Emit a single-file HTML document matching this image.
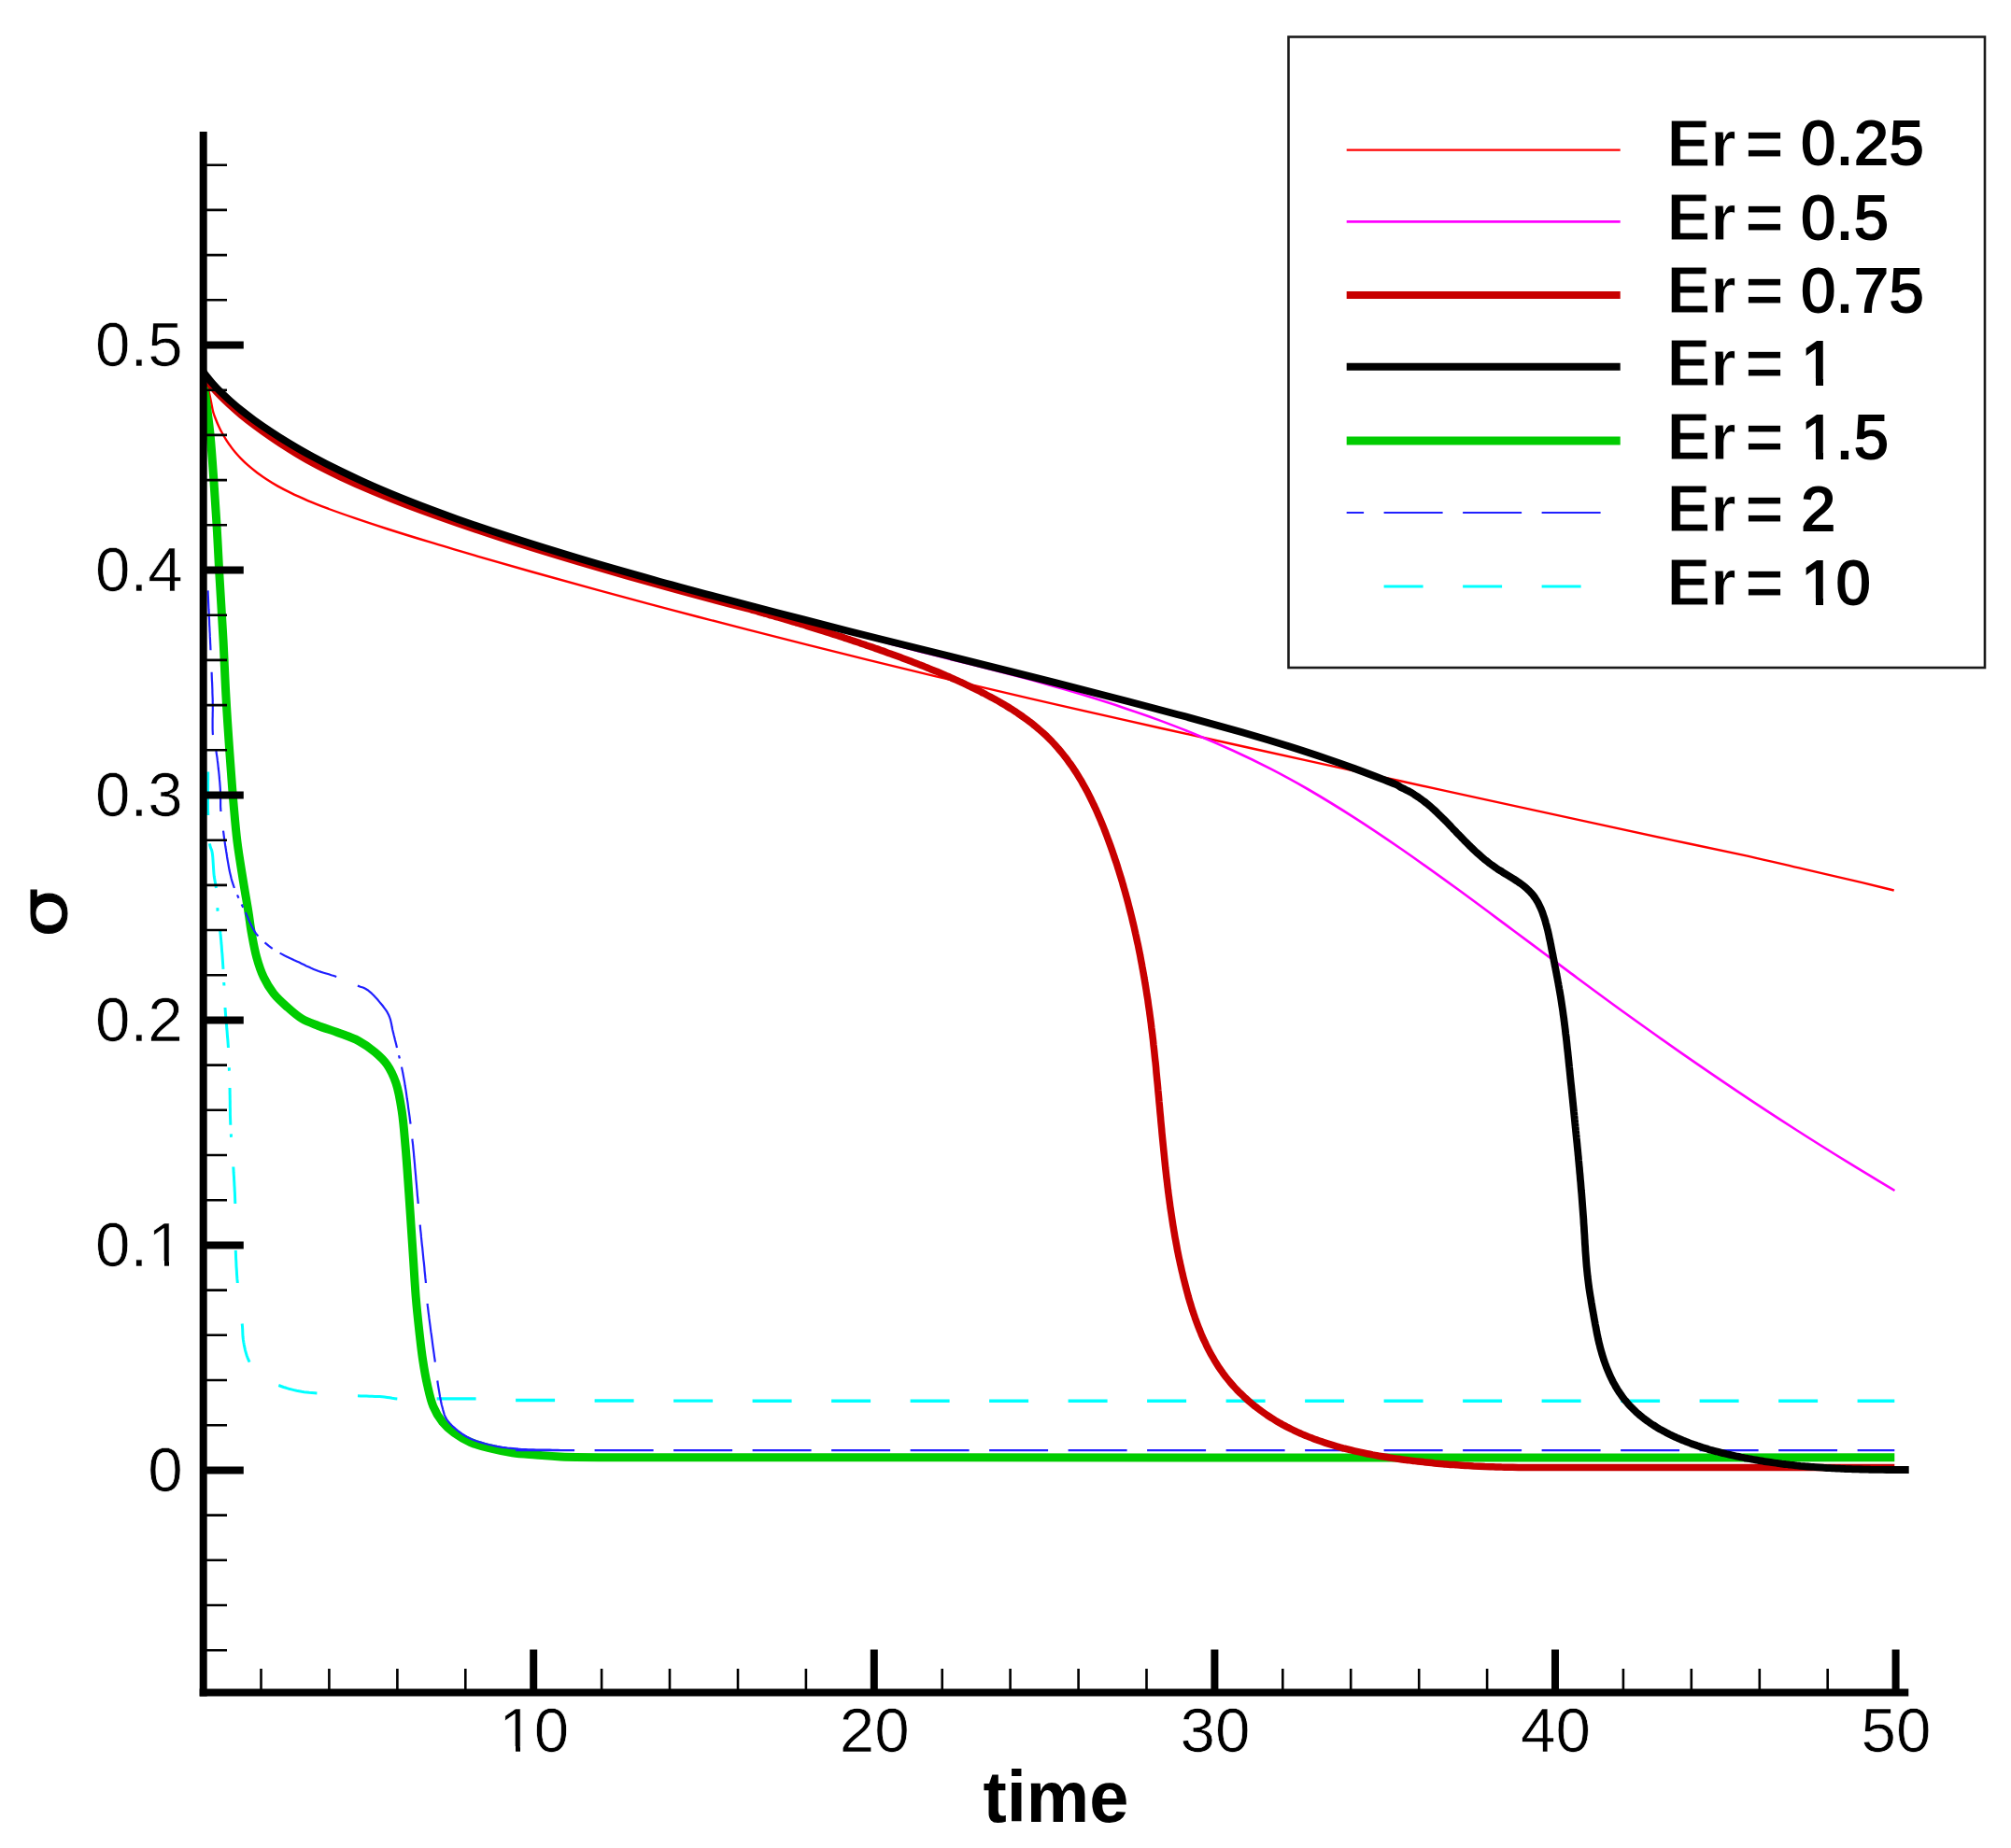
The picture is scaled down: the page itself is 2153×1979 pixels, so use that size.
<!DOCTYPE html>
<html lang="en"><head><meta charset="utf-8"><title>sigma vs time</title>
<style>html,body{margin:0;padding:0;background:#fff}body{width:2153px;height:1979px;overflow:hidden}svg{display:block}text{font-family:"Liberation Sans",Arial,Helvetica,sans-serif;fill:#000}.num{stroke:#fff;stroke-width:.7px}.num{font-size:67.4px}.leg{font-size:70px;font-weight:bold;stroke:#fff;stroke-width:.8px}.leg .d{font-weight:normal;stroke:#000;stroke-width:2px;font-size:66.3px;letter-spacing:.8px}</style></head><body>
<svg width="2153" height="1979" viewBox="0 0 2153 1979">
<rect width="2153" height="1979" fill="#fff"/>
<defs><clipPath id="plot"><rect x="217" y="100" width="1830" height="1712"/></clipPath></defs>
<g fill="none" stroke-linejoin="round" stroke-linecap="butt" clip-path="url(#plot)">
<path d="M222.7 826.4 L222.7 829.3 L222.7 832.1 L222.7 835.0 L222.6 837.9 L222.6 840.9 L222.6 843.8 L222.5 846.7 L222.5 849.6 L222.5 852.5 L222.5 855.3 L222.5 858.1 L222.5 860.9 L222.5 863.7 L222.5 866.4 L222.6 869.1 L222.7 871.7 L222.7 873.0 M224.5 903.4 L224.8 905.4 L225.6 908.1 L226.6 910.4 L227.2 913.0 L227.5 915.3 L227.8 918.0 L228.0 920.9 L228.2 924.0 L228.4 927.2 L228.6 930.4 L228.8 933.4 L229.0 936.1 L229.3 938.8 L229.8 941.8 L230.3 944.5 L230.8 947.2 L231.3 950.2 L231.4 951.0 M232.8 972.2 L233.0 975.0 L233.1 975.7 M235.7 996.8 L235.9 999.2 L236.2 1001.8 L236.4 1004.5 L236.7 1007.2 L236.9 1010.0 L237.2 1012.9 L237.4 1015.8 L237.6 1018.8 L237.9 1021.7 L238.1 1024.7 L238.3 1027.7 L238.5 1030.7 L238.7 1033.6 L238.9 1036.5 L239.0 1037.9 M239.7 1052.0 L239.9 1054.9 L239.9 1055.6 M241.0 1079.0 L241.2 1081.8 L241.4 1084.6 L241.6 1087.4 L241.8 1090.2 L242.1 1093.0 L242.3 1095.8 L242.6 1098.7 L242.8 1101.5 L243.1 1104.3 L243.3 1107.2 L243.5 1110.0 L243.8 1112.8 L244.0 1115.6 L244.2 1118.5 L244.4 1121.3 L244.4 1122.0 M245.3 1143.2 L245.4 1146.1 L245.5 1146.8 M246.0 1165.0 L246.1 1167.9 L246.1 1170.7 L246.2 1173.6 L246.2 1176.4 L246.3 1179.2 L246.3 1182.0 L246.3 1184.8 L246.4 1187.6 L246.4 1190.4 L246.4 1193.2 L246.5 1196.1 L246.6 1198.9 L246.7 1201.8 L246.8 1204.7 M247.3 1214.4 L247.5 1217.2 L247.6 1217.9 M249.8 1249.5 L250.0 1252.4 L250.1 1255.2 L250.3 1258.0 L250.5 1260.8 L250.6 1263.6 L250.8 1266.4 L250.9 1269.1 L251.1 1271.9 L251.2 1274.6 L251.4 1277.4 L251.5 1280.3 L251.6 1283.1 L251.7 1286.0 L251.8 1289.0 M252.3 1339.0 L252.4 1342.0 L252.5 1344.9 L252.6 1347.8 L252.8 1350.5 L252.9 1353.3 L253.0 1356.0 L253.2 1358.7 L253.4 1361.4 L253.5 1364.1 L253.7 1366.9 L253.9 1369.7 L254.2 1372.5 L254.3 1374.0 M259.2 1417.5 L259.5 1420.7 L259.7 1423.7 L259.8 1426.6 L259.9 1429.3 L260.1 1432.0 L260.4 1434.7 L260.8 1437.3 L261.3 1440.1 L261.9 1443.0 L262.5 1445.8 L263.3 1448.6 L264.1 1451.4 L265.1 1454.1 L266.2 1456.7 L267.2 1458.6 M298.3 1483.5 L300.9 1484.5 L303.6 1485.5 L306.4 1486.3 L309.1 1487.2 L311.9 1487.9 L314.7 1488.6 L317.5 1489.3 L320.2 1489.8 L323.0 1490.3 L325.6 1490.7 L328.3 1491.0 L331.0 1491.3 L333.9 1491.5 L336.9 1491.8 L339.4 1492.0 M383.0 1494.7 L386.1 1494.9 L389.3 1495.0 L392.4 1495.1 L395.4 1495.2 L398.3 1495.3 L401.2 1495.4 L404.0 1495.5 L406.6 1495.6 L409.2 1495.8 L411.6 1496.0 L414.7 1496.4 L417.3 1496.8 L419.9 1497.3 L422.8 1497.7 L425.3 1498.0 " stroke="#00ffff" stroke-width="3"/>
<path d="M467.6 1497.9H509.6 M552.1 1499.5H594.1 M636.6 1500.0H678.6 M721.1 1500.1H763.1 M805.6 1500.2H847.6 M890.1 1500.2H932.1 M974.6 1500.2H1016.6 M1059.1 1500.2H1101.1 M1143.6 1500.2H1185.6 M1228.1 1500.2H1270.1 M1312.6 1500.2H1354.6 M1397.1 1500.2H1439.1 M1481.6 1500.2H1523.6 M1566.1 1500.2H1608.1 M1650.6 1500.2H1692.6 M1735.1 1500.2H1777.1 M1819.6 1500.2H1861.6 M1904.1 1500.2H1946.1 M1988.6 1500.2H2028.3 " stroke="#00ffff" stroke-width="3.4"/>
<path d="M214.0 397.0 C215.7 399.7 217.6 402.1 219.0 405.0 C220.5 408.1 221.5 411.4 222.5 415.0 C223.7 419.0 224.5 423.6 225.5 428.0 C226.5 432.4 227.2 437.7 228.3 441.5 C229.1 444.4 230.0 446.4 231.0 449.0 C232.0 451.6 233.2 454.4 234.4 456.9 C235.5 459.4 236.7 461.7 238.0 464.0 C239.4 466.6 241.0 469.2 242.5 471.6 C244.0 473.9 245.4 476.0 247.0 478.1 C248.6 480.3 250.2 482.4 252.0 484.5 C253.9 486.7 255.8 488.8 258.0 491.1 C260.4 493.6 263.2 496.2 266.0 498.7 C268.9 501.2 271.9 503.6 275.0 506.0 C278.2 508.4 281.5 510.7 285.0 513.0 C288.8 515.5 292.7 517.9 297.0 520.4 C301.7 523.0 306.7 525.6 312.0 528.2 C317.7 531.0 323.7 533.6 330.0 536.3 C336.9 539.2 344.2 542.0 352.0 545.0 C360.7 548.2 370.1 551.5 380.0 554.9 C391.0 558.7 402.6 562.5 415.0 566.5 C429.0 571.0 444.6 575.8 460.0 580.4 C476.2 585.4 492.6 590.2 510.0 595.3 C529.1 600.9 549.2 606.6 570.0 612.5 C592.4 618.8 615.9 625.3 640.0 631.9 C665.8 638.9 693.3 646.3 720.0 653.4 C746.7 660.4 771.8 667.0 800.0 674.2 C831.5 682.3 866.7 691.2 900.0 699.4 C933.3 707.7 966.7 715.8 1000.0 723.8 C1033.3 731.8 1066.7 739.6 1100.0 747.3 C1133.3 755.1 1166.7 762.7 1200.0 770.2 C1233.3 777.7 1266.7 785.1 1300.0 792.5 C1333.3 799.9 1366.7 807.3 1400.0 814.6 C1433.3 821.9 1466.7 829.2 1500.0 836.5 C1533.3 843.8 1566.7 851.1 1600.0 858.3 C1633.3 865.6 1667.5 873.0 1700.0 880.1 C1730.8 886.7 1760.7 893.3 1790.0 899.6 C1817.9 905.5 1846.9 911.3 1871.8 916.8 C1892.9 921.5 1910.2 925.8 1930.0 930.4 C1950.7 935.2 1975.7 940.9 1993.6 945.2 C2006.7 948.3 2016.3 950.7 2027.7 953.5" stroke="#ff0000" stroke-width="2.4"/>
<path d="M214.0 396.0 C215.2 400.7 216.5 405.2 217.5 410.0 C218.5 414.9 219.2 419.7 220.0 425.0 C220.9 430.9 221.7 437.2 222.5 443.6 C223.4 450.4 224.2 456.2 225.0 464.7 C226.3 477.6 227.6 497.2 228.8 513.4 C230.0 529.6 231.0 545.8 232.0 562.0 C233.0 578.2 233.6 592.9 234.6 610.8 C235.8 632.9 237.7 660.8 239.0 684.7 C240.2 707.1 240.9 728.3 242.2 750.0 C243.4 771.7 245.1 795.6 246.5 815.0 C247.6 830.8 248.6 843.6 249.8 858.0 C251.1 872.5 252.2 887.0 254.0 901.5 C255.8 916.0 258.5 931.4 260.6 944.8 C262.4 956.3 264.5 967.3 266.0 977.0 C267.3 985.0 267.9 991.4 269.3 999.0 C270.8 1007.3 272.4 1016.8 274.7 1025.0 C276.8 1032.6 279.1 1039.9 282.3 1046.5 C285.3 1052.8 288.7 1058.6 293.0 1064.0 C297.3 1069.5 303.0 1074.4 308.2 1079.0 C313.1 1083.4 317.9 1087.7 323.4 1091.0 C328.8 1094.2 334.6 1096.1 340.7 1098.5 C347.5 1101.1 355.1 1103.3 362.3 1106.0 C369.6 1108.7 377.4 1111.1 384.0 1114.7 C390.3 1118.1 396.1 1122.2 401.3 1126.6 C406.2 1130.7 410.6 1134.7 414.3 1140.0 C418.3 1145.7 421.4 1152.5 424.0 1160.0 C427.0 1168.8 428.6 1179.3 430.2 1189.8 C432.0 1201.5 432.8 1213.7 434.0 1227.0 C435.4 1242.4 436.6 1261.6 437.7 1277.0 C438.6 1290.3 439.4 1301.6 440.2 1314.0 C441.0 1326.5 441.9 1339.1 442.7 1351.6 C443.5 1364.1 444.2 1376.6 445.2 1389.0 C446.2 1401.4 447.6 1414.3 448.9 1426.0 C450.1 1436.5 451.1 1446.2 452.6 1456.0 C454.0 1465.4 455.6 1474.8 457.6 1483.5 C459.4 1491.4 460.9 1499.1 463.8 1505.9 C466.4 1512.2 469.9 1518.1 473.8 1523.0 C477.4 1527.5 481.5 1531.0 486.2 1534.5 C491.3 1538.3 497.5 1541.8 503.7 1544.5 C510.0 1547.2 516.5 1548.9 523.6 1550.7 C531.4 1552.7 540.2 1554.5 548.5 1555.7 C556.8 1556.9 565.0 1557.3 573.4 1558.0 C582.1 1558.7 588.3 1559.5 600.0 1560.0 C622.7 1560.9 647.7 1560.6 700.0 1560.8 C890.7 1561.6 1585.5 1560.8 2028.3 1560.8" stroke="#00cc00" stroke-width="9"/>
<path d="M222.6 632.4 L222.7 635.5 L222.8 637.6 L222.9 639.8 L223.0 642.1 L223.1 644.5 L223.2 646.9 L223.3 649.5 L223.4 652.2 L223.6 654.9 L223.7 657.7 L223.8 660.6 L224.0 663.5 L224.1 666.5 L224.2 669.5 L224.4 672.6 L224.5 675.7 L224.7 678.8 L224.8 681.9 L225.0 685.1 L225.1 688.3 L225.3 691.5 L225.4 694.7 L225.5 696.3 M226.6 719.7 L226.7 722.7 L226.8 725.6 L226.9 728.5 L227.1 731.2 L227.2 734.0 L227.3 736.6 L227.4 739.2 L227.4 741.6 L227.5 744.0 L227.6 746.3 L227.7 748.4 L227.7 750.9 L227.8 754.4 L227.8 757.8 L227.8 761.0 L227.7 764.1 L227.7 767.1 L227.6 770.0 L227.6 772.7 L227.6 775.4 L227.6 778.0 L227.6 780.5 L227.7 782.9 L227.8 785.3 L228.0 787.0 M231.4 804.0 L231.7 806.3 L232.1 808.8 L232.5 811.4 L232.8 814.2 L233.2 817.1 L233.5 820.0 L233.8 823.0 L234.2 826.0 L234.5 829.0 L234.8 832.0 L235.0 834.9 L235.3 837.7 L235.5 840.4 L235.7 843.0 L235.9 846.0 L236.0 849.0 L236.0 851.9 L236.1 854.8 L236.1 857.6 L236.1 860.3 L236.1 863.0 L236.2 865.7 L236.4 868.3 L236.4 869.0 M239.0 889.6 L239.4 892.4 L239.7 895.1 L240.1 897.9 L240.5 900.7 L240.9 903.5 L241.3 906.3 L241.8 909.2 L242.2 912.0 L242.7 914.8 L243.1 917.7 L243.6 920.7 L244.1 923.6 L244.6 926.5 L245.1 929.3 L245.6 932.1 L246.2 934.7 L246.9 937.5 L247.5 940.3 L248.2 942.9 L249.0 945.4 L249.9 948.1 L250.9 951.0 M254.0 958.4 L255.2 961.0 L255.5 961.7 M258.7 968.5 L260.0 971.2 L260.3 971.8 M262.8 977.0 L264.0 979.6 L265.2 982.3 L266.3 985.0 L267.5 987.6 L268.7 990.2 L269.9 992.7 L271.2 995.1 L272.5 997.4 L274.0 999.6 L275.9 1001.9 L276.3 1002.5 M283.5 1009.4 L285.6 1011.1 L287.7 1012.9 L290.0 1014.6 L291.7 1015.8 M299.6 1020.6 L302.0 1021.9 L304.5 1023.2 L307.0 1024.4 L309.7 1025.7 L312.4 1026.9 L315.0 1028.2 L317.7 1029.4 L320.3 1030.6 L322.9 1031.9 L325.4 1033.1 L328.0 1034.4 L330.6 1035.6 L333.2 1036.8 L335.8 1037.9 L338.5 1039.0 L341.1 1040.0 L343.8 1040.9 L346.5 1041.7 L349.2 1042.5 L352.0 1043.3 L354.7 1044.2 L357.5 1045.0 L360.2 1046.0 M382.9 1055.6 L385.9 1056.7 L388.6 1057.5 L391.2 1058.7 L393.6 1060.2 L395.6 1061.8 L397.8 1063.7 L399.9 1065.8 L402.0 1068.1 L404.1 1070.3 L406.0 1072.6 L407.8 1074.7 L409.7 1077.0 L411.4 1079.3 L413.1 1081.6 L414.6 1083.9 L415.9 1086.4 L417.0 1089.0 L417.9 1091.6 L418.6 1094.4 L419.2 1097.2 L419.7 1100.1 L420.3 1102.9 L421.0 1105.7 L421.6 1108.3 L422.3 1111.0 L422.9 1113.6 L423.6 1116.3 L424.3 1119.0 L425.0 1122.0 M427.0 1130.2 L427.7 1132.9 L427.8 1133.5 M430.0 1142.6 L430.6 1145.6 L431.2 1148.5 L431.7 1151.3 L432.2 1153.9 L432.7 1156.7 L433.2 1159.4 L433.6 1162.3 L434.1 1165.2 L434.6 1168.1 L435.0 1171.0 L435.4 1173.9 L435.8 1176.8 L436.3 1179.7 L436.7 1182.5 L437.0 1185.3 L437.4 1188.0 L437.8 1190.8 L438.2 1193.6 L438.6 1196.4 L438.9 1199.1 L439.3 1201.7 L439.5 1203.6 M441.4 1219.6 L441.6 1221.9 L441.9 1224.3 L442.2 1226.9 L442.4 1229.6 L442.7 1232.4 L443.0 1235.2 L443.2 1238.2 L443.5 1241.2 L443.8 1244.3 L444.1 1247.4 L444.3 1250.5 L444.6 1253.7 L444.9 1256.8 L445.2 1259.9 L445.4 1263.0 L445.7 1266.1 L446.0 1269.1 L446.2 1272.0 L446.5 1274.9 L446.7 1277.6 L446.9 1280.3 L447.2 1282.8 L447.4 1285.2 L447.6 1287.4 L447.7 1289.0 M449.7 1311.7 L449.9 1313.9 L450.1 1316.3 L450.4 1318.8 L450.7 1321.5 L450.9 1324.2 L451.2 1327.1 L451.5 1330.1 L451.8 1333.1 L452.2 1336.2 L452.5 1339.4 L452.8 1342.5 L453.1 1345.7 L453.4 1348.8 L453.8 1351.9 L454.1 1354.9 L454.4 1357.9 L454.6 1360.8 L454.9 1363.6 L455.2 1366.3 L455.4 1368.9 L455.7 1371.2 L455.9 1373.5 L455.9 1374.0 M457.6 1396.0 L457.8 1398.2 L458.1 1400.5 L458.4 1403.0 L458.7 1405.6 L459.1 1408.3 L459.4 1411.2 L459.8 1414.1 L460.2 1417.1 L460.6 1420.2 L461.0 1423.3 L461.4 1426.4 L461.9 1429.5 L462.3 1432.7 L462.7 1435.7 L463.1 1438.8 L463.5 1441.8 L463.9 1444.7 L464.3 1447.5 L464.7 1450.2 L465.0 1452.8 L465.4 1455.2 L465.7 1457.5 L465.8 1458.6 M468.3 1478.5 L468.7 1481.3 L469.1 1484.1 L469.6 1487.0 L470.1 1489.9 L470.6 1492.9 L471.1 1495.9 L471.7 1498.8 L472.2 1501.6 L472.8 1504.3 L473.5 1506.8 L474.2 1509.6 L475.0 1512.4 L475.8 1515.1 L476.9 1517.6 L478.3 1520.1 L479.9 1522.2 L481.6 1524.2 L483.5 1526.2 L485.5 1528.2 L487.8 1530.2 L490.1 1532.1 L492.6 1534.0 L495.0 1535.7 L497.5 1537.3 L499.9 1538.7 L502.4 1540.0 L505.0 1541.2 L507.6 1542.2 L510.3 1543.2 L513.1 1544.1 L515.8 1544.9 L518.6 1545.7 L521.5 1546.5 L524.3 1547.2 L526.9 1547.8 L529.6 1548.4 L532.2 1548.9 L534.9 1549.3 L537.7 1549.8 L540.4 1550.1 L543.3 1550.5 L546.2 1550.8 L549.2 1551.1 L552.2 1551.4 L554.9 1551.7 L557.4 1551.9 L560.1 1552.0 L562.8 1552.1 L565.5 1552.3 L568.3 1552.4 L571.1 1552.4 L574.0 1552.5 L576.9 1552.6 L579.8 1552.6 L582.7 1552.7 L585.6 1552.7 L588.5 1552.7 L591.4 1552.8 L594.3 1552.8 L597.2 1552.9 L600.0 1553.0 " stroke="#2020ff" stroke-width="2.2"/>
<path d="M552.1 1553.2H615.1 M636.6 1553.2H699.6 M721.1 1553.2H784.1 M805.6 1553.2H868.6 M890.1 1553.2H953.1 M974.6 1553.2H1037.6 M1059.1 1553.2H1122.1 M1143.6 1553.2H1206.6 M1228.1 1553.2H1291.1 M1312.6 1553.2H1375.6 M1397.1 1553.2H1460.1 M1481.6 1553.2H1544.6 M1566.1 1553.2H1629.1 M1650.6 1553.2H1713.6 M1735.1 1553.2H1798.1 M1819.6 1553.2H1882.6 M1904.1 1553.2H1967.1 M1988.6 1553.2H2028.3 " stroke="#2020ff" stroke-width="2.2"/>
<path d="M214.0 394.4 C215.0 396.0 215.9 397.5 217.0 399.2 C218.3 401.1 219.7 403.1 221.4 405.2 C223.3 407.7 225.6 410.5 228.0 413.1 C230.5 415.9 233.1 418.7 236.0 421.6 C239.1 424.6 242.5 427.8 246.0 430.9 C249.8 434.3 253.8 437.7 258.0 441.1 C262.4 444.6 267.0 448.1 272.0 451.8 C277.6 455.8 283.8 460.1 290.0 464.2 C296.4 468.5 302.9 472.6 310.0 476.8 C317.8 481.5 326.2 486.4 335.0 491.1 C344.5 496.3 354.6 501.5 365.0 506.6 C376.2 512.0 387.9 517.5 400.0 522.8 C412.8 528.4 425.9 533.8 440.0 539.4 C455.7 545.6 472.5 551.8 490.0 558.1 C509.0 564.8 529.2 571.6 550.0 578.3 C572.4 585.6 595.8 592.8 620.0 600.0 C645.7 607.7 673.3 615.5 700.0 622.9 C726.6 630.4 753.3 637.5 780.0 644.6 C806.6 651.7 833.3 658.6 860.0 665.4 C886.7 672.3 922.2 681.0 940.0 685.7 C948.9 688.1 952.2 689.2 960.0 691.3 C971.0 694.3 986.7 698.2 1000.0 701.5 C1013.3 704.9 1026.8 708.2 1040.0 711.6 C1053.1 714.9 1066.8 718.4 1079.0 721.6 C1089.9 724.4 1099.8 727.0 1110.0 729.8 C1120.1 732.6 1130.0 735.4 1140.0 738.3 C1150.0 741.2 1160.0 744.2 1170.0 747.3 C1180.0 750.4 1189.3 753.3 1200.0 756.9 C1212.4 761.1 1226.7 766.0 1240.0 770.9 C1253.4 775.9 1266.7 781.0 1280.0 786.5 C1293.4 792.0 1306.7 797.7 1320.0 803.8 C1333.4 809.9 1346.7 816.4 1360.0 823.2 C1373.4 830.1 1386.0 837.0 1400.0 845.0 C1415.8 854.2 1433.4 865.0 1450.0 875.6 C1466.8 886.3 1482.7 897.1 1500.0 909.0 C1519.2 922.3 1540.1 937.3 1560.0 951.8 C1580.1 966.4 1600.0 981.4 1620.0 996.2 C1640.0 1011.1 1660.0 1026.1 1680.0 1040.9 C1700.0 1055.7 1719.9 1070.5 1740.0 1085.0 C1759.9 1099.3 1779.9 1113.6 1800.0 1127.6 C1819.9 1141.4 1839.9 1155.1 1860.0 1168.6 C1879.9 1182.0 1899.9 1195.1 1920.0 1208.0 C1939.9 1220.8 1961.0 1234.0 1980.0 1245.7 C1997.0 1256.2 2012.3 1265.2 2028.5 1275.0" stroke="#ff00ff" stroke-width="2.6"/>
<path d="M214.0 396.9 C215.0 398.5 215.9 400.0 217.0 401.7 C218.3 403.6 219.7 405.6 221.4 407.7 C223.3 410.2 225.7 413.0 228.0 415.6 C230.5 418.5 233.1 421.3 236.0 424.2 C239.1 427.4 242.5 430.6 246.0 433.8 C249.8 437.3 253.8 440.8 258.0 444.3 C262.4 447.9 267.0 451.5 272.0 455.3 C277.6 459.5 283.8 464.0 290.0 468.2 C296.4 472.7 302.9 476.9 310.0 481.3 C317.8 486.2 326.2 491.3 335.0 496.0 C344.5 501.2 354.6 506.1 365.0 511.0 C376.2 516.3 387.9 521.5 400.0 526.6 C412.8 532.0 425.9 537.2 440.0 542.6 C455.7 548.5 472.5 554.5 490.0 560.5 C509.1 567.1 529.2 573.9 550.0 580.5 C572.4 587.7 595.9 594.8 620.0 602.0 C645.7 609.6 673.3 617.5 700.0 624.9 C726.6 632.4 762.2 641.9 780.0 646.6 C788.9 648.9 795.3 650.5 799.9 651.7 C802.5 652.4 803.9 652.8 805.8 653.4 C807.8 653.9 809.8 654.4 811.7 655.0 C813.7 655.5 815.6 656.1 817.6 656.6 C819.5 657.2 821.5 657.7 823.4 658.3 C825.4 658.9 827.3 659.4 829.3 660.0 C831.2 660.5 833.1 661.1 835.1 661.7 C837.0 662.2 838.9 662.8 840.9 663.4 C842.8 663.9 844.7 664.5 846.7 665.1 C848.6 665.6 850.5 666.2 852.4 666.8 C854.4 667.4 856.3 668.0 858.2 668.5 C860.1 669.1 862.0 669.7 864.0 670.3 C865.9 670.9 867.8 671.5 869.7 672.1 C871.6 672.7 873.5 673.3 875.4 673.9 C877.4 674.5 879.3 675.1 881.2 675.7 C883.1 676.3 885.0 676.9 886.9 677.5 C888.8 678.1 890.7 678.7 892.6 679.3 C894.5 679.9 896.4 680.6 898.3 681.2 C900.2 681.8 902.1 682.4 904.0 683.1 C905.9 683.7 907.8 684.3 909.7 684.9 C911.6 685.6 913.5 686.2 915.4 686.8 C917.3 687.5 919.2 688.1 921.1 688.8 C923.0 689.4 924.9 690.1 926.8 690.7 C928.7 691.4 930.6 692.0 932.5 692.7 C934.4 693.3 936.3 694.0 938.1 694.7 C940.0 695.3 941.9 696.0 943.8 696.7 C945.7 697.3 947.6 698.0 949.5 698.7 C951.4 699.4 953.3 700.0 955.2 700.7 C957.1 701.4 959.0 702.1 960.9 702.8 C962.8 703.5 964.7 704.2 966.6 704.9 C968.5 705.6 970.3 706.3 972.2 707.0 C974.1 707.7 976.0 708.5 977.9 709.2 C979.8 709.9 981.7 710.6 983.6 711.4 C985.4 712.1 987.3 712.9 989.2 713.6 C991.1 714.4 993.0 715.1 994.9 715.9 C996.7 716.6 998.6 717.4 1000.5 718.2 C1002.4 719.0 1004.2 719.7 1006.1 720.5 C1008.0 721.3 1009.9 722.1 1011.7 722.9 C1013.6 723.7 1015.5 724.6 1017.3 725.4 C1019.2 726.2 1021.0 727.0 1022.9 727.9 C1024.8 728.7 1026.6 729.6 1028.5 730.4 C1030.3 731.3 1032.2 732.1 1034.0 733.0 C1035.9 733.9 1037.7 734.8 1039.6 735.7 C1041.4 736.5 1043.2 737.5 1045.1 738.4 C1046.9 739.3 1048.7 740.2 1050.6 741.1 C1052.4 742.1 1054.2 743.0 1056.0 744.0 C1057.8 744.9 1059.7 745.9 1061.5 746.9 C1063.3 747.8 1065.1 748.8 1066.8 749.8 C1068.6 750.8 1070.4 751.9 1072.2 752.9 C1073.9 753.9 1075.7 755.0 1077.5 756.0 C1079.2 757.1 1080.9 758.2 1082.7 759.2 C1084.4 760.3 1086.1 761.4 1087.8 762.5 C1089.5 763.7 1091.2 764.8 1092.8 766.0 C1094.5 767.1 1096.1 768.3 1097.8 769.5 C1099.4 770.6 1101.0 771.8 1102.6 773.1 C1104.2 774.3 1105.8 775.5 1107.3 776.8 C1108.9 778.0 1110.4 779.3 1111.9 780.6 C1113.5 781.9 1114.9 783.2 1116.4 784.5 C1117.9 785.9 1119.3 787.2 1120.8 788.6 C1122.2 790.0 1123.6 791.4 1125.0 792.8 C1126.3 794.2 1127.7 795.6 1129.0 797.1 C1130.3 798.5 1131.7 800.0 1132.9 801.5 C1134.2 803.0 1135.5 804.5 1136.7 806.0 C1138.0 807.6 1139.2 809.1 1140.4 810.7 C1141.6 812.2 1142.8 813.8 1143.9 815.4 C1145.1 817.0 1146.2 818.6 1147.4 820.2 C1148.5 821.8 1149.6 823.5 1150.7 825.1 C1151.8 826.8 1152.8 828.5 1153.9 830.1 C1154.9 831.8 1155.9 833.5 1157.0 835.2 C1158.0 836.9 1159.0 838.7 1159.9 840.4 C1160.9 842.1 1161.9 843.9 1162.8 845.6 C1163.8 847.4 1164.7 849.1 1165.6 850.9 C1166.5 852.7 1167.4 854.5 1168.3 856.3 C1169.2 858.1 1170.1 859.9 1170.9 861.7 C1171.8 863.5 1172.6 865.3 1173.5 867.2 C1174.3 869.0 1175.1 870.8 1175.9 872.7 C1176.7 874.5 1177.5 876.4 1178.3 878.2 C1179.1 880.1 1179.8 882.0 1180.6 883.9 C1181.4 885.7 1182.1 887.6 1182.8 889.5 C1183.6 891.4 1184.3 893.3 1185.0 895.2 C1185.7 897.1 1186.4 899.0 1187.1 900.9 C1187.8 902.8 1188.5 904.7 1189.2 906.6 C1189.9 908.5 1190.5 910.4 1191.2 912.3 C1191.8 914.2 1192.5 916.1 1193.1 918.1 C1193.8 920.0 1194.4 921.9 1195.1 923.8 C1195.7 925.7 1196.3 927.7 1196.9 929.6 C1197.5 931.5 1198.1 933.5 1198.7 935.4 C1199.3 937.3 1199.9 939.2 1200.5 941.2 C1201.1 943.1 1201.6 945.1 1202.2 947.0 C1202.8 948.9 1203.3 950.9 1203.9 952.8 C1204.4 954.8 1205.0 956.7 1205.5 958.7 C1206.0 960.6 1206.6 962.6 1207.1 964.5 C1207.6 966.5 1208.1 968.4 1208.6 970.4 C1209.1 972.3 1209.6 974.3 1210.1 976.2 C1210.6 978.2 1211.1 980.1 1211.6 982.1 C1212.1 984.1 1212.5 986.0 1213.0 988.0 C1213.5 990.0 1213.9 991.9 1214.4 993.9 C1214.8 995.9 1215.3 997.8 1215.7 999.8 C1216.2 1001.8 1216.6 1003.7 1217.0 1005.7 C1217.4 1007.7 1217.9 1009.7 1218.3 1011.6 C1218.7 1013.6 1219.1 1015.6 1219.5 1017.6 C1219.9 1019.5 1220.3 1021.5 1220.7 1023.5 C1221.1 1025.5 1221.4 1027.5 1221.8 1029.4 C1222.2 1031.4 1222.6 1033.4 1222.9 1035.4 C1223.3 1037.4 1223.6 1039.4 1224.0 1041.4 C1224.3 1043.3 1224.7 1045.3 1225.0 1047.3 C1225.4 1049.3 1225.7 1051.3 1226.0 1053.3 C1226.4 1055.3 1226.7 1057.3 1227.0 1059.3 C1227.3 1061.3 1227.6 1063.2 1227.9 1065.2 C1228.3 1067.2 1228.6 1069.2 1228.9 1071.2 C1229.1 1073.2 1229.4 1075.2 1229.7 1077.2 C1230.0 1079.2 1230.3 1081.2 1230.6 1083.2 C1230.8 1085.2 1231.1 1087.2 1231.4 1089.2 C1231.7 1091.2 1231.9 1093.2 1232.2 1095.2 C1232.4 1097.2 1232.7 1099.2 1232.9 1101.2 C1233.2 1103.2 1233.4 1105.2 1233.7 1107.2 C1233.9 1109.2 1234.1 1111.2 1234.4 1113.2 C1234.6 1115.2 1234.8 1117.2 1235.0 1119.2 C1235.3 1121.2 1235.5 1123.2 1235.7 1125.2 C1235.9 1127.2 1236.1 1129.2 1236.3 1131.2 C1236.5 1133.2 1236.7 1135.2 1237.0 1137.2 C1237.2 1139.2 1237.4 1141.2 1237.6 1143.2 C1237.8 1145.3 1237.9 1147.3 1238.1 1149.3 C1238.3 1151.3 1238.5 1153.3 1238.7 1155.3 C1238.9 1157.3 1239.1 1159.3 1239.3 1161.3 C1239.5 1163.3 1239.7 1165.3 1239.8 1167.3 C1240.0 1169.3 1240.2 1171.3 1240.4 1173.3 C1240.6 1175.3 1240.8 1177.3 1240.9 1179.3 C1241.1 1181.3 1241.3 1183.3 1241.5 1185.3 C1241.7 1187.4 1241.8 1189.4 1242.0 1191.4 C1242.2 1193.4 1242.4 1195.4 1242.6 1197.4 C1242.7 1199.4 1242.9 1201.4 1243.1 1203.4 C1243.3 1205.4 1243.5 1207.4 1243.7 1209.4 C1243.8 1211.4 1244.0 1213.4 1244.2 1215.4 C1244.4 1217.4 1244.6 1219.4 1244.8 1221.4 C1245.0 1223.4 1245.2 1225.4 1245.4 1227.4 C1245.6 1229.4 1245.8 1231.4 1246.0 1233.4 C1246.2 1235.4 1246.4 1237.4 1246.6 1239.4 C1246.8 1241.4 1247.0 1243.4 1247.2 1245.4 C1247.4 1247.4 1247.6 1249.4 1247.8 1251.4 C1248.1 1253.4 1248.3 1255.4 1248.5 1257.4 C1248.7 1259.4 1248.9 1261.4 1249.2 1263.4 C1249.4 1265.4 1249.7 1267.4 1249.9 1269.4 C1250.1 1271.4 1250.4 1273.4 1250.6 1275.4 C1250.9 1277.4 1251.1 1279.4 1251.4 1281.4 C1251.7 1283.4 1251.9 1285.4 1252.2 1287.4 C1252.5 1289.4 1252.7 1291.4 1253.0 1293.4 C1253.3 1295.3 1253.6 1297.3 1253.9 1299.3 C1254.2 1301.3 1254.5 1303.3 1254.8 1305.3 C1255.1 1307.3 1255.4 1309.3 1255.7 1311.3 C1256.0 1313.2 1256.4 1315.2 1256.7 1317.2 C1257.0 1319.2 1257.4 1321.2 1257.7 1323.2 C1258.0 1325.2 1258.4 1327.1 1258.8 1329.1 C1259.1 1331.1 1259.5 1333.1 1259.9 1335.1 C1260.2 1337.1 1260.6 1339.0 1261.0 1341.0 C1261.4 1343.0 1261.8 1345.0 1262.2 1346.9 C1262.6 1348.9 1263.1 1350.9 1263.5 1352.9 C1263.9 1354.8 1264.4 1356.8 1264.8 1358.8 C1265.2 1360.8 1265.7 1362.7 1266.2 1364.7 C1266.6 1366.7 1267.1 1368.7 1267.6 1370.6 C1268.1 1372.6 1268.6 1374.6 1269.1 1376.5 C1269.6 1378.5 1270.1 1380.5 1270.6 1382.4 C1271.1 1384.4 1271.7 1386.3 1272.2 1388.3 C1272.8 1390.3 1273.3 1392.2 1273.9 1394.2 C1274.5 1396.1 1275.1 1398.0 1275.7 1400.0 C1276.3 1401.9 1276.9 1403.8 1277.6 1405.8 C1278.2 1407.7 1278.9 1409.6 1279.5 1411.5 C1280.2 1413.4 1280.9 1415.3 1281.6 1417.2 C1282.3 1419.1 1283.0 1421.0 1283.8 1422.9 C1284.5 1424.7 1285.3 1426.6 1286.0 1428.4 C1286.8 1430.3 1287.6 1432.1 1288.4 1434.0 C1289.3 1435.8 1290.1 1437.6 1291.0 1439.4 C1291.8 1441.2 1292.7 1443.0 1293.6 1444.8 C1294.5 1446.5 1295.5 1448.3 1296.4 1450.1 C1297.4 1451.8 1298.4 1453.5 1299.4 1455.2 C1300.4 1457.0 1301.4 1458.7 1302.5 1460.3 C1303.5 1462.0 1304.6 1463.7 1305.7 1465.3 C1306.8 1467.0 1308.0 1468.6 1309.1 1470.2 C1310.3 1471.8 1311.5 1473.4 1312.7 1475.0 C1313.9 1476.5 1315.2 1478.1 1316.5 1479.6 C1317.7 1481.1 1319.0 1482.6 1320.4 1484.1 C1321.7 1485.6 1323.1 1487.1 1324.4 1488.5 C1325.8 1489.9 1327.2 1491.4 1328.7 1492.7 C1330.1 1494.1 1331.5 1495.5 1333.0 1496.9 C1334.5 1498.2 1336.0 1499.6 1337.5 1500.9 C1339.0 1502.2 1340.6 1503.5 1342.1 1504.7 C1343.7 1506.0 1345.3 1507.2 1346.8 1508.4 C1348.4 1509.7 1350.1 1510.9 1351.7 1512.0 C1353.3 1513.2 1355.0 1514.3 1356.6 1515.5 C1358.3 1516.6 1360.0 1517.7 1361.7 1518.8 C1363.4 1519.8 1365.1 1520.9 1366.8 1521.9 C1368.5 1522.9 1370.2 1523.9 1372.0 1524.9 C1373.7 1525.9 1375.5 1526.8 1377.3 1527.8 C1379.1 1528.7 1380.8 1529.6 1382.6 1530.5 C1384.4 1531.4 1386.3 1532.2 1388.1 1533.1 C1389.9 1533.9 1391.7 1534.8 1393.6 1535.6 C1395.4 1536.4 1397.3 1537.1 1399.1 1537.9 C1401.0 1538.7 1402.9 1539.4 1404.8 1540.1 C1406.6 1540.9 1408.5 1541.6 1410.4 1542.2 C1412.3 1542.9 1414.3 1543.6 1416.2 1544.2 C1418.1 1544.9 1420.0 1545.5 1422.0 1546.1 C1423.9 1546.7 1425.8 1547.3 1427.8 1547.9 C1429.7 1548.5 1431.7 1549.1 1433.6 1549.6 C1435.6 1550.1 1437.6 1550.7 1439.5 1551.2 C1441.5 1551.7 1443.5 1552.2 1445.5 1552.7 C1447.5 1553.2 1449.4 1553.6 1451.4 1554.1 C1453.4 1554.6 1455.4 1555.0 1457.4 1555.4 C1459.4 1555.9 1461.4 1556.3 1463.4 1556.7 C1465.4 1557.1 1467.5 1557.5 1469.5 1557.9 C1471.5 1558.2 1473.5 1558.6 1475.5 1559.0 C1477.5 1559.3 1479.5 1559.7 1481.6 1560.0 C1483.6 1560.3 1485.6 1560.6 1487.6 1561.0 C1489.6 1561.3 1491.6 1561.6 1493.7 1561.9 C1495.7 1562.2 1497.7 1562.4 1499.7 1562.7 C1501.7 1563.0 1503.8 1563.3 1505.8 1563.5 C1507.8 1563.8 1509.8 1564.0 1511.8 1564.3 C1513.8 1564.5 1515.8 1564.8 1517.8 1565.0 C1519.8 1565.2 1521.8 1565.4 1523.9 1565.6 C1525.9 1565.9 1527.9 1566.1 1529.9 1566.3 C1531.9 1566.5 1533.8 1566.7 1535.8 1566.9 C1537.8 1567.0 1539.8 1567.2 1541.8 1567.4 C1543.8 1567.6 1545.8 1567.7 1547.8 1567.9 C1549.8 1568.1 1551.8 1568.2 1553.8 1568.4 C1555.8 1568.5 1557.7 1568.7 1559.7 1568.8 C1561.7 1568.9 1563.7 1569.1 1565.7 1569.2 C1567.7 1569.3 1569.7 1569.5 1571.7 1569.6 C1573.6 1569.7 1575.6 1569.8 1577.6 1569.9 C1579.6 1570.0 1581.6 1570.1 1583.6 1570.2 C1585.6 1570.3 1587.6 1570.4 1589.6 1570.5 C1591.5 1570.5 1593.5 1570.6 1595.5 1570.7 C1597.5 1570.8 1599.5 1570.8 1601.5 1570.9 C1603.5 1571.0 1605.5 1571.0 1607.5 1571.1 C1609.5 1571.1 1611.5 1571.2 1613.5 1571.2 C1615.5 1571.3 1617.5 1571.3 1619.5 1571.3 C1621.5 1571.4 1623.6 1571.4 1625.6 1571.4 C1627.6 1571.5 1629.6 1571.5 1631.6 1571.5 C1633.6 1571.5 1635.7 1571.5 1637.7 1571.5 C1639.7 1571.5 1641.7 1571.5 1643.8 1571.6 C1645.8 1571.6 1646.8 1571.5 1649.9 1571.5 C1658.5 1571.5 1676.0 1571.6 1700.0 1571.6 C1761.5 1571.6 1918.9 1571.6 2028.3 1571.6" stroke="#c80000" stroke-width="7.5"/>
<path d="M214.0 392.4 C215.0 394.0 215.9 395.5 217.0 397.2 C218.3 399.1 219.7 401.1 221.4 403.2 C223.3 405.7 225.6 408.5 228.0 411.1 C230.5 413.9 233.1 416.7 236.0 419.6 C239.1 422.6 242.5 425.8 246.0 428.9 C249.8 432.3 253.8 435.7 258.0 439.1 C262.4 442.6 267.0 446.1 272.0 449.8 C277.6 453.8 283.8 458.1 290.0 462.2 C296.4 466.5 302.9 470.6 310.0 474.8 C317.8 479.5 326.2 484.4 335.0 489.1 C344.5 494.3 354.6 499.5 365.0 504.6 C376.2 510.0 387.9 515.5 400.0 520.8 C412.8 526.4 425.9 531.8 440.0 537.4 C455.7 543.6 472.5 549.8 490.0 556.1 C509.0 562.8 529.2 569.6 550.0 576.3 C572.4 583.6 595.8 590.8 620.0 598.0 C645.7 605.7 673.3 613.5 700.0 620.9 C726.6 628.4 753.3 635.5 780.0 642.6 C806.6 649.7 833.3 656.6 860.0 663.4 C886.7 670.3 913.3 677.0 940.0 683.7 C966.7 690.4 993.3 697.0 1020.0 703.6 C1046.7 710.3 1073.3 716.9 1100.0 723.6 C1126.7 730.3 1153.3 737.1 1180.0 744.0 C1206.7 750.8 1234.2 758.0 1260.0 764.9 C1284.1 771.4 1308.7 778.1 1330.0 784.2 C1348.1 789.4 1364.3 794.3 1380.0 799.3 C1394.1 803.7 1407.6 808.2 1420.0 812.4 C1430.7 816.0 1440.0 819.3 1450.0 823.0 C1460.0 826.7 1471.6 831.1 1480.0 834.4 C1486.2 836.8 1492.5 839.0 1496.0 840.8 C1497.8 841.7 1498.6 842.5 1499.9 843.2 C1501.2 843.9 1502.4 844.4 1503.6 844.9 C1504.8 845.5 1506.0 846.1 1507.2 846.8 C1508.4 847.4 1509.6 848.1 1510.7 848.7 C1511.9 849.4 1513.0 850.1 1514.1 850.8 C1515.3 851.5 1516.4 852.3 1517.5 853.0 C1518.6 853.8 1519.7 854.5 1520.8 855.3 C1521.9 856.1 1522.9 856.9 1524.0 857.7 C1525.0 858.5 1526.1 859.3 1527.1 860.2 C1528.2 861.0 1529.2 861.9 1530.2 862.7 C1531.2 863.6 1532.2 864.5 1533.2 865.3 C1534.2 866.2 1535.2 867.1 1536.2 868.0 C1537.2 868.9 1538.2 869.9 1539.1 870.8 C1540.1 871.7 1541.1 872.6 1542.0 873.6 C1543.0 874.5 1543.9 875.4 1544.9 876.4 C1545.8 877.3 1546.8 878.3 1547.7 879.2 C1548.6 880.2 1549.6 881.2 1550.5 882.1 C1551.4 883.1 1552.3 884.1 1553.3 885.0 C1554.2 886.0 1555.1 887.0 1556.0 887.9 C1557.0 888.9 1557.9 889.9 1558.8 890.8 C1559.7 891.8 1560.7 892.8 1561.6 893.7 C1562.5 894.7 1563.5 895.7 1564.4 896.6 C1565.3 897.6 1566.3 898.5 1567.2 899.5 C1568.1 900.4 1569.1 901.4 1570.0 902.3 C1571.0 903.3 1571.9 904.2 1572.9 905.2 C1573.8 906.1 1574.8 907.0 1575.7 908.0 C1576.7 908.9 1577.7 909.8 1578.6 910.7 C1579.6 911.7 1580.6 912.6 1581.6 913.5 C1582.6 914.4 1583.6 915.3 1584.6 916.1 C1585.6 917.0 1586.6 917.9 1587.6 918.8 C1588.6 919.6 1589.6 920.5 1590.7 921.3 C1591.7 922.1 1592.8 923.0 1593.8 923.8 C1594.9 924.6 1595.9 925.4 1597.0 926.2 C1598.1 927.0 1599.2 927.8 1600.3 928.5 C1601.4 929.3 1602.5 930.0 1603.6 930.8 C1604.8 931.5 1605.9 932.2 1607.1 932.9 C1608.2 933.6 1609.3 934.4 1610.5 935.1 C1611.6 935.8 1612.8 936.5 1613.9 937.2 C1615.1 937.9 1616.2 938.6 1617.4 939.3 C1618.5 940.0 1619.7 940.7 1620.8 941.4 C1622.0 942.2 1623.1 942.9 1624.2 943.6 C1625.3 944.4 1626.4 945.1 1627.5 945.9 C1628.6 946.7 1629.7 947.5 1630.7 948.3 C1631.7 949.1 1632.8 949.9 1633.8 950.8 C1634.7 951.7 1635.7 952.5 1636.7 953.5 C1637.6 954.4 1638.5 955.3 1639.4 956.3 C1640.2 957.3 1641.1 958.3 1641.8 959.3 C1642.6 960.3 1643.4 961.4 1644.1 962.5 C1644.8 963.6 1645.5 964.7 1646.2 965.9 C1646.8 967.0 1647.4 968.2 1648.0 969.4 C1648.6 970.6 1649.2 971.8 1649.7 973.0 C1650.2 974.3 1650.7 975.5 1651.2 976.8 C1651.7 978.0 1652.1 979.3 1652.5 980.6 C1653.0 981.9 1653.4 983.2 1653.8 984.4 C1654.2 985.7 1654.6 987.0 1654.9 988.3 C1655.3 989.6 1655.6 990.9 1656.0 992.2 C1656.3 993.6 1656.6 994.9 1657.0 996.2 C1657.3 997.5 1657.6 998.8 1657.9 1000.1 C1658.2 1001.4 1658.5 1002.7 1658.7 1004.1 C1659.0 1005.4 1659.3 1006.7 1659.6 1008.0 C1659.8 1009.3 1660.1 1010.7 1660.4 1012.0 C1660.6 1013.3 1660.9 1014.6 1661.1 1015.9 C1661.4 1017.3 1661.6 1018.6 1661.9 1019.9 C1662.2 1021.2 1662.4 1022.5 1662.7 1023.8 C1662.9 1025.2 1663.2 1026.5 1663.5 1027.8 C1663.7 1029.1 1664.0 1030.4 1664.2 1031.7 C1664.5 1033.0 1664.7 1034.4 1665.0 1035.7 C1665.3 1037.0 1665.5 1038.3 1665.8 1039.6 C1666.0 1040.9 1666.3 1042.2 1666.5 1043.5 C1666.8 1044.8 1667.0 1046.1 1667.3 1047.5 C1667.5 1048.8 1667.8 1050.1 1668.0 1051.4 C1668.3 1052.7 1668.5 1054.0 1668.7 1055.3 C1669.0 1056.6 1669.2 1057.9 1669.4 1059.3 C1669.7 1060.6 1669.9 1061.9 1670.1 1063.2 C1670.3 1064.5 1670.6 1065.8 1670.8 1067.1 C1671.0 1068.5 1671.2 1069.8 1671.4 1071.1 C1671.6 1072.4 1671.8 1073.7 1672.0 1075.1 C1672.2 1076.4 1672.4 1077.7 1672.6 1079.0 C1672.8 1080.3 1673.0 1081.7 1673.2 1083.0 C1673.4 1084.3 1673.5 1085.6 1673.7 1086.9 C1673.9 1088.3 1674.1 1089.6 1674.3 1090.9 C1674.4 1092.2 1674.6 1093.6 1674.8 1094.9 C1674.9 1096.2 1675.1 1097.6 1675.3 1098.9 C1675.4 1100.2 1675.6 1101.5 1675.8 1102.9 C1675.9 1104.2 1676.1 1105.5 1676.2 1106.9 C1676.4 1108.2 1676.6 1109.5 1676.7 1110.8 C1676.9 1112.2 1677.0 1113.5 1677.2 1114.8 C1677.3 1116.2 1677.5 1117.5 1677.6 1118.8 C1677.7 1120.2 1677.9 1121.5 1678.0 1122.8 C1678.2 1124.2 1678.3 1125.5 1678.5 1126.8 C1678.6 1128.2 1678.7 1129.5 1678.9 1130.8 C1679.0 1132.2 1679.2 1133.5 1679.3 1134.8 C1679.4 1136.2 1679.6 1137.5 1679.7 1138.8 C1679.8 1140.2 1680.0 1141.5 1680.1 1142.8 C1680.3 1144.2 1680.4 1145.5 1680.5 1146.8 C1680.7 1148.2 1680.8 1149.5 1680.9 1150.8 C1681.1 1152.2 1681.2 1153.5 1681.3 1154.8 C1681.5 1156.2 1681.6 1157.5 1681.7 1158.8 C1681.9 1160.2 1682.0 1161.5 1682.2 1162.8 C1682.3 1164.2 1682.4 1165.5 1682.6 1166.8 C1682.7 1168.1 1682.8 1169.5 1683.0 1170.8 C1683.1 1172.1 1683.2 1173.5 1683.4 1174.8 C1683.5 1176.1 1683.7 1177.5 1683.8 1178.8 C1683.9 1180.1 1684.1 1181.5 1684.2 1182.8 C1684.3 1184.1 1684.5 1185.5 1684.6 1186.8 C1684.7 1188.1 1684.9 1189.5 1685.0 1190.8 C1685.2 1192.1 1685.3 1193.5 1685.4 1194.8 C1685.6 1196.1 1685.7 1197.4 1685.8 1198.8 C1686.0 1200.1 1686.1 1201.4 1686.2 1202.8 C1686.4 1204.1 1686.5 1205.4 1686.6 1206.8 C1686.8 1208.1 1686.9 1209.4 1687.0 1210.8 C1687.2 1212.1 1687.3 1213.4 1687.4 1214.8 C1687.6 1216.1 1687.7 1217.4 1687.8 1218.8 C1688.0 1220.1 1688.1 1221.4 1688.2 1222.7 C1688.4 1224.1 1688.5 1225.4 1688.6 1226.7 C1688.7 1228.1 1688.9 1229.4 1689.0 1230.7 C1689.1 1232.1 1689.3 1233.4 1689.4 1234.7 C1689.5 1236.1 1689.6 1237.4 1689.8 1238.7 C1689.9 1240.1 1690.0 1241.4 1690.1 1242.7 C1690.3 1244.1 1690.4 1245.4 1690.5 1246.7 C1690.6 1248.0 1690.7 1249.4 1690.9 1250.7 C1691.0 1252.0 1691.1 1253.4 1691.2 1254.7 C1691.3 1256.0 1691.5 1257.4 1691.6 1258.7 C1691.7 1260.0 1691.8 1261.4 1691.9 1262.7 C1692.0 1264.0 1692.2 1265.4 1692.3 1266.7 C1692.4 1268.0 1692.5 1269.4 1692.6 1270.7 C1692.7 1272.0 1692.8 1273.4 1692.9 1274.7 C1693.1 1276.0 1693.2 1277.4 1693.3 1278.7 C1693.4 1280.0 1693.5 1281.4 1693.6 1282.7 C1693.7 1284.0 1693.8 1285.4 1693.9 1286.7 C1694.0 1288.0 1694.1 1289.4 1694.2 1290.7 C1694.3 1292.0 1694.4 1293.4 1694.5 1294.7 C1694.6 1296.0 1694.7 1297.4 1694.8 1298.7 C1694.9 1300.0 1695.0 1301.4 1695.1 1302.7 C1695.2 1304.1 1695.3 1305.4 1695.4 1306.7 C1695.4 1308.1 1695.5 1309.4 1695.6 1310.7 C1695.7 1312.1 1695.8 1313.4 1695.9 1314.7 C1696.0 1316.1 1696.0 1317.4 1696.1 1318.7 C1696.2 1320.1 1696.3 1321.4 1696.4 1322.8 C1696.5 1324.1 1696.5 1325.4 1696.6 1326.8 C1696.7 1328.1 1696.8 1329.4 1696.8 1330.8 C1696.9 1332.1 1697.0 1333.5 1697.1 1334.8 C1697.2 1336.1 1697.3 1337.5 1697.3 1338.8 C1697.4 1340.1 1697.5 1341.5 1697.6 1342.8 C1697.7 1344.2 1697.8 1345.5 1697.9 1346.8 C1698.0 1348.2 1698.1 1349.5 1698.2 1350.8 C1698.3 1352.2 1698.4 1353.5 1698.5 1354.8 C1698.6 1356.2 1698.8 1357.5 1698.9 1358.8 C1699.0 1360.2 1699.1 1361.5 1699.3 1362.8 C1699.4 1364.2 1699.6 1365.5 1699.7 1366.8 C1699.9 1368.2 1700.0 1369.5 1700.2 1370.8 C1700.3 1372.2 1700.5 1373.5 1700.7 1374.8 C1700.9 1376.1 1701.0 1377.5 1701.2 1378.8 C1701.4 1380.1 1701.6 1381.4 1701.8 1382.8 C1702.0 1384.1 1702.2 1385.4 1702.4 1386.7 C1702.6 1388.1 1702.9 1389.4 1703.1 1390.7 C1703.3 1392.0 1703.5 1393.3 1703.7 1394.7 C1704.0 1396.0 1704.2 1397.3 1704.4 1398.6 C1704.6 1399.9 1704.9 1401.3 1705.1 1402.6 C1705.3 1403.9 1705.6 1405.2 1705.8 1406.5 C1706.0 1407.8 1706.3 1409.1 1706.5 1410.5 C1706.7 1411.8 1707.0 1413.1 1707.2 1414.4 C1707.5 1415.7 1707.7 1417.0 1707.9 1418.3 C1708.2 1419.6 1708.4 1420.9 1708.7 1422.2 C1708.9 1423.5 1709.2 1424.8 1709.4 1426.1 C1709.7 1427.5 1709.9 1428.8 1710.2 1430.1 C1710.5 1431.4 1710.8 1432.7 1711.0 1434.0 C1711.3 1435.3 1711.6 1436.6 1711.9 1437.9 C1712.2 1439.2 1712.6 1440.5 1712.9 1441.8 C1713.2 1443.1 1713.5 1444.4 1713.9 1445.6 C1714.3 1446.9 1714.6 1448.2 1715.0 1449.5 C1715.4 1450.8 1715.8 1452.1 1716.2 1453.4 C1716.6 1454.7 1717.0 1456.0 1717.4 1457.3 C1717.9 1458.5 1718.3 1459.8 1718.8 1461.1 C1719.3 1462.4 1719.7 1463.6 1720.2 1464.9 C1720.7 1466.2 1721.2 1467.4 1721.8 1468.7 C1722.3 1469.9 1722.8 1471.2 1723.4 1472.4 C1724.0 1473.6 1724.5 1474.9 1725.1 1476.1 C1725.7 1477.3 1726.3 1478.5 1726.9 1479.7 C1727.6 1480.9 1728.2 1482.1 1728.9 1483.2 C1729.5 1484.4 1730.2 1485.6 1730.9 1486.7 C1731.6 1487.9 1732.3 1489.0 1733.0 1490.1 C1733.8 1491.2 1734.5 1492.3 1735.3 1493.4 C1736.0 1494.5 1736.8 1495.6 1737.6 1496.7 C1738.4 1497.7 1739.2 1498.8 1740.1 1499.8 C1740.9 1500.8 1741.8 1501.8 1742.6 1502.8 C1743.5 1503.8 1744.4 1504.8 1745.3 1505.8 C1746.2 1506.7 1747.2 1507.7 1748.1 1508.6 C1749.0 1509.6 1750.0 1510.5 1751.0 1511.4 C1751.9 1512.3 1752.9 1513.2 1753.9 1514.0 C1754.9 1514.9 1755.9 1515.8 1757.0 1516.6 C1758.0 1517.4 1759.0 1518.3 1760.1 1519.1 C1761.1 1519.9 1762.2 1520.7 1763.3 1521.5 C1764.4 1522.3 1765.5 1523.0 1766.6 1523.8 C1767.7 1524.6 1768.8 1525.3 1769.9 1526.0 C1771.0 1526.8 1772.2 1527.5 1773.3 1528.2 C1774.4 1528.9 1775.6 1529.6 1776.8 1530.3 C1777.9 1530.9 1779.1 1531.6 1780.3 1532.2 C1781.5 1532.9 1782.6 1533.5 1783.8 1534.2 C1785.0 1534.8 1786.2 1535.4 1787.4 1536.0 C1788.7 1536.6 1789.9 1537.2 1791.1 1537.8 C1792.3 1538.4 1793.5 1538.9 1794.8 1539.5 C1796.0 1540.0 1797.2 1540.6 1798.5 1541.1 C1799.7 1541.6 1801.0 1542.2 1802.2 1542.7 C1803.5 1543.2 1804.7 1543.7 1806.0 1544.2 C1807.2 1544.7 1808.5 1545.1 1809.7 1545.6 C1811.0 1546.1 1812.3 1546.5 1813.5 1547.0 C1814.8 1547.4 1816.1 1547.9 1817.3 1548.3 C1818.6 1548.7 1819.9 1549.1 1821.1 1549.6 C1822.4 1550.0 1823.7 1550.4 1825.0 1550.8 C1826.3 1551.2 1827.5 1551.5 1828.8 1551.9 C1830.1 1552.3 1831.4 1552.7 1832.7 1553.0 C1834.0 1553.4 1835.2 1553.8 1836.5 1554.1 C1837.8 1554.4 1839.1 1554.8 1840.4 1555.1 C1841.7 1555.5 1843.0 1555.8 1844.3 1556.1 C1845.6 1556.4 1846.9 1556.7 1848.2 1557.0 C1849.5 1557.3 1850.8 1557.7 1852.1 1557.9 C1853.4 1558.2 1854.7 1558.5 1856.0 1558.8 C1857.3 1559.1 1858.6 1559.4 1859.9 1559.7 C1861.2 1559.9 1862.5 1560.2 1863.8 1560.5 C1865.1 1560.7 1866.5 1561.0 1867.8 1561.3 C1869.1 1561.5 1870.4 1561.8 1871.7 1562.0 C1873.0 1562.3 1874.3 1562.5 1875.6 1562.7 C1877.0 1563.0 1878.3 1563.2 1879.6 1563.4 C1880.9 1563.7 1882.2 1563.9 1883.5 1564.1 C1884.9 1564.3 1886.2 1564.5 1887.5 1564.7 C1888.8 1565.0 1890.1 1565.2 1891.5 1565.4 C1892.8 1565.6 1894.1 1565.8 1895.4 1565.9 C1896.8 1566.1 1898.1 1566.3 1899.4 1566.5 C1900.7 1566.7 1902.1 1566.9 1903.4 1567.0 C1904.7 1567.2 1906.0 1567.4 1907.4 1567.6 C1908.7 1567.7 1910.0 1567.9 1911.4 1568.0 C1912.7 1568.2 1914.0 1568.4 1915.3 1568.5 C1916.7 1568.7 1918.0 1568.8 1919.3 1568.9 C1920.7 1569.1 1922.0 1569.2 1923.3 1569.4 C1924.7 1569.5 1926.0 1569.6 1927.3 1569.8 C1928.7 1569.9 1930.0 1570.0 1931.3 1570.1 C1932.7 1570.3 1934.0 1570.4 1935.3 1570.5 C1936.7 1570.6 1938.0 1570.7 1939.3 1570.8 C1940.7 1570.9 1942.0 1571.0 1943.4 1571.1 C1944.7 1571.2 1946.0 1571.3 1947.4 1571.4 C1948.7 1571.5 1950.0 1571.6 1951.4 1571.7 C1952.7 1571.8 1954.1 1571.9 1955.4 1572.0 C1956.7 1572.0 1958.1 1572.1 1959.4 1572.2 C1960.8 1572.3 1962.1 1572.3 1963.4 1572.4 C1964.8 1572.5 1966.1 1572.6 1967.4 1572.6 C1968.8 1572.7 1970.1 1572.7 1971.5 1572.8 C1972.8 1572.9 1974.1 1572.9 1975.5 1573.0 C1976.8 1573.0 1978.2 1573.1 1979.5 1573.1 C1980.8 1573.2 1982.2 1573.2 1983.5 1573.3 C1984.9 1573.3 1986.2 1573.4 1987.5 1573.4 C1988.9 1573.4 1990.2 1573.5 1991.6 1573.5 C1992.9 1573.6 1994.2 1573.6 1995.6 1573.6 C1996.9 1573.7 1998.3 1573.7 1999.6 1573.7 C2000.9 1573.7 2002.3 1573.8 2003.6 1573.8 C2005.0 1573.8 2006.3 1573.8 2007.6 1573.8 C2009.0 1573.9 2010.3 1573.9 2011.6 1573.9 C2013.0 1573.9 2014.3 1573.9 2015.7 1573.9 C2017.0 1574.0 2018.3 1574.0 2019.7 1574.0 C2021.0 1574.0 2022.3 1574.0 2023.7 1574.0 C2025.0 1574.0 2026.3 1574.0 2027.7 1574.0 C2029.0 1574.0 2030.4 1574.0 2031.7 1574.0 C2033.0 1574.0 2034.4 1574.0 2035.7 1574.0 C2037.0 1574.0 2038.4 1574.0 2039.7 1574.0 C2041.0 1574.0 2042.3 1574.0 2043.7 1574.0" stroke="#000" stroke-width="7.8"/>
</g>
<g stroke="#000" fill="none">
<path d="M217.7 141V1816.5" stroke-width="8"/>
<path d="M213.7 1812.5H2043.3" stroke-width="8"/>
<path d="M217.7 1574.4H260.8M217.7 1333.4H260.8M217.7 1092.4H260.8M217.7 851.5H260.8M217.7 610.5H260.8M217.7 369.5H260.8" stroke-width="8"/>
<path d="M217.7 1767.2H243M217.7 1719.0H243M217.7 1670.8H243M217.7 1622.6H243M217.7 1526.2H243M217.7 1478.0H243M217.7 1429.8H243M217.7 1381.6H243M217.7 1285.2H243M217.7 1237.0H243M217.7 1188.8H243M217.7 1140.6H243M217.7 1044.2H243M217.7 996.0H243M217.7 947.9H243M217.7 899.7H243M217.7 803.3H243M217.7 755.1H243M217.7 706.9H243M217.7 658.7H243M217.7 562.3H243M217.7 514.1H243M217.7 465.9H243M217.7 417.7H243M217.7 321.3H243M217.7 273.1H243M217.7 224.9H243M217.7 176.7H243" stroke-width="2.6"/>
<path d="M571.2 1812.5V1766.5M935.8 1812.5V1766.5M1300.4 1812.5V1766.5M1665.0 1812.5V1766.5M2029.6 1812.5V1766.5" stroke-width="8"/>
<path d="M279.5 1812.5V1787M352.4 1812.5V1787M425.4 1812.5V1787M498.3 1812.5V1787M644.1 1812.5V1787M717.0 1812.5V1787M790.0 1812.5V1787M862.9 1812.5V1787M1008.7 1812.5V1787M1081.6 1812.5V1787M1154.6 1812.5V1787M1227.5 1812.5V1787M1373.3 1812.5V1787M1446.2 1812.5V1787M1519.2 1812.5V1787M1592.1 1812.5V1787M1737.9 1812.5V1787M1810.8 1812.5V1787M1883.8 1812.5V1787M1956.7 1812.5V1787" stroke-width="2.6"/>
</g>
<g class="num" text-anchor="end">
<text x="195.8" y="1596.9">0</text>
<text x="195.8" y="1355.9">0.1</text>
<text x="195.8" y="1114.9">0.2</text>
<text x="195.8" y="874.0">0.3</text>
<text x="195.8" y="633.0">0.4</text>
<text x="195.8" y="392.0">0.5</text>
</g>
<g class="num" text-anchor="middle">
<text x="571.7" y="1876">10</text>
<text x="936.3" y="1876">20</text>
<text x="1300.9" y="1876">30</text>
<text x="1665.5" y="1876">40</text>
<text x="2030.1" y="1876">50</text>
</g>
<text x="1130.5" y="1951" text-anchor="middle" style="font-size:78px;font-weight:bold" textLength="156" lengthAdjust="spacingAndGlyphs">time</text>
<text transform="translate(71 977.5) rotate(-90) scale(1.2 1)" text-anchor="middle" style="font-family:'DejaVu Sans','Liberation Sans',sans-serif;font-size:70px;stroke:#000;stroke-width:1px">σ</text>
<rect x="1379.5" y="39.5" width="745.5" height="675.5" fill="#fff" stroke="#1a1a1a" stroke-width="2.6"/>
<g fill="none">
<path d="M1441.7 160.7H1734.7" stroke="#ff0000" stroke-width="2.2"/>
<path d="M1441.7 237.4H1734.7" stroke="#ff00ff" stroke-width="2.8"/>
<path d="M1441.7 316.0H1734.7" stroke="#c80000" stroke-width="8"/>
<path d="M1441.7 392.8H1734.7" stroke="#000" stroke-width="8"/>
<path d="M1441.7 471.9H1734.7" stroke="#00cc00" stroke-width="9"/>
<path d="M1441.7 549.0H1460.1 M1481.6 549.0H1544.6 M1566.1 549.0H1629.1 M1650.6 549.0H1713.6 " stroke="#2020ff" stroke-width="2.2"/>
<path d="M1481.6 628.0H1523.6 M1566.1 628.0H1608.1 M1650.6 628.0H1692.6 " stroke="#00ffff" stroke-width="3.2"/>
</g>
<g class="leg">
<text y="177.5"><tspan x="1784.6">Er </tspan><tspan x="1868.6">= </tspan><tspan x="1928.2" dy="-1.2" class="d">0.25</tspan></text>
<text y="257.3"><tspan x="1784.6">Er </tspan><tspan x="1868.6">= </tspan><tspan x="1928.2" dy="-1.2" class="d">0.5</tspan></text>
<text y="335.1"><tspan x="1784.6">Er </tspan><tspan x="1868.6">= </tspan><tspan x="1928.2" dy="-1.2" class="d">0.75</tspan></text>
<text y="413.0"><tspan x="1784.6">Er </tspan><tspan x="1868.6">= </tspan><tspan x="1928.2" dy="-1.2" class="d">1</tspan></text>
<text y="491.8"><tspan x="1784.6">Er </tspan><tspan x="1868.6">= </tspan><tspan x="1928.2" dy="-1.2" class="d">1.5</tspan></text>
<text y="569.0"><tspan x="1784.6">Er </tspan><tspan x="1868.6">= </tspan><tspan x="1928.2" dy="-1.2" class="d">2</tspan></text>
<text y="648.0"><tspan x="1784.6">Er </tspan><tspan x="1868.6">= </tspan><tspan x="1928.2" dy="-1.2" class="d">10</tspan></text>
</g>
<g fill="#fff">
<rect x="1930.5" y="405.0" width="13.5" height="9.0"/>
<rect x="1952.0" y="405.0" width="12.5" height="9.0"/>
<rect x="1930.5" y="484.0" width="13.5" height="9.0"/>
<rect x="1952.0" y="484.0" width="12.5" height="9.0"/>
<rect x="1930.5" y="640.0" width="13.5" height="9.0"/>
<rect x="1952.0" y="640.0" width="12.5" height="9.0"/>
<rect x="162.5" y="1350.0" width="13.5" height="7.0"/>
<rect x="181.0" y="1350.0" width="12.5" height="7.0"/>
<rect x="538.5" y="1870.0" width="13.5" height="7.0"/>
<rect x="557.0" y="1870.0" width="12.5" height="7.0"/>
</g>
</svg></body></html>
